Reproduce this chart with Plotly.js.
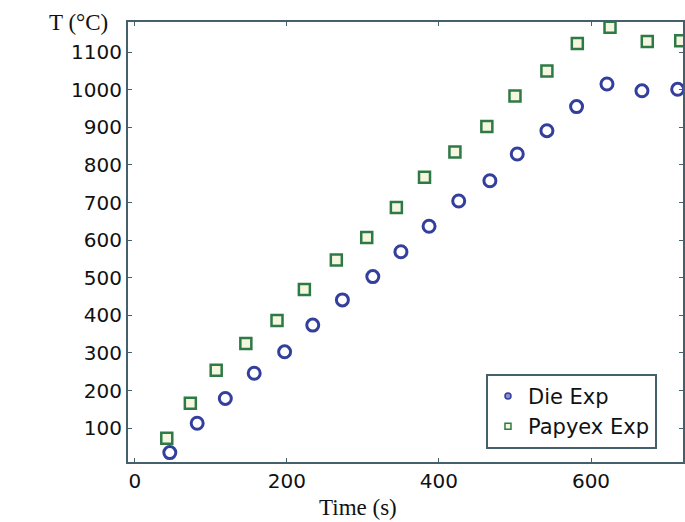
<!DOCTYPE html>
<html>
<head>
<meta charset="utf-8">
<script src="https://cdn.plot.ly/plotly-3.0.1.min.js"></script>
<style>html,body{margin:0;padding:0;background:#fff;}#chart{width:685px;height:522px;}</style>
</head>
<body>
<div id="chart"></div>
<script>
// Time (s) and temperature (°C)
const dieTime = [46, 82, 119, 157, 197, 234, 273, 313, 350, 387, 426, 467, 503, 542, 581, 621, 667, 714];
const dieTemp = [35, 113, 179, 246, 303, 374, 441, 503, 569, 637, 704, 758, 829, 891, 955, 1015, 997, 1001];
const papTime = [42, 73, 107, 146, 187, 223, 265, 305, 344, 381, 421, 463, 500, 542, 582, 625, 674, 718];
const papTemp = [73, 166, 254, 325, 386, 469, 547, 607, 687, 767, 834, 902, 983, 1050, 1123, 1166, 1128, 1130];
const seriesNames = ["Die Exp", "Papyex Exp"];
const xTicks = [0, 200, 400, 600];
const yTicks = [100, 200, 300, 400, 500, 600, 700, 800, 900, 1000, 1100];

const blue = "#333f9c";
const green = "#2e7a45";

const traces = [
  {x: dieTime, y: dieTemp, mode: "markers", type: "scatter", showlegend: false,
   marker: {symbol: "circle-open", size: 12, color: blue, line: {width: 3, color: blue}}},
  {x: papTime, y: papTemp, mode: "markers", type: "scatter", showlegend: false,
   marker: {symbol: "square", size: 11, color: "#f4f6e0", line: {width: 2.5, color: green}}},
  {x: [null], y: [null], mode: "markers", type: "scatter", name: seriesNames[0],
   marker: {symbol: "circle", size: 6, color: "#8a8fd0", line: {width: 1.5, color: blue}}},
  {x: [null], y: [null], mode: "markers", type: "scatter", name: seriesNames[1],
   marker: {symbol: "square", size: 6, color: "#f4f6e0", line: {width: 1.5, color: green}}}
];

const axisColor = "#44606a";
const layout = {
  width: 685, height: 522,
  margin: {l: 128, r: 2, t: 22, b: 60},
  paper_bgcolor: "#ffffff", plot_bgcolor: "#ffffff",
  showlegend: true,
  legend: {x: 0.645, y: 0.03, xanchor: "left", yanchor: "bottom",
    bgcolor: "#ffffff", bordercolor: axisColor, borderwidth: 2,
    font: {family: "DejaVu Sans", size: 21, color: "#111"}, tracegroupgap: 0},
  xaxis: {range: [-9, 721], tickvals: xTicks, ticktext: xTicks.map(String),
    showgrid: false, zeroline: false, showline: true, mirror: "ticks",
    linecolor: axisColor, linewidth: 2, ticks: "inside", ticklen: 4, tickcolor: axisColor,
    tickfont: {family: "DejaVu Sans", size: 20, color: "#111"}},
  yaxis: {range: [10, 1180], tickvals: yTicks, ticktext: yTicks.map(String),
    showgrid: false, zeroline: false, showline: true, mirror: "ticks",
    linecolor: axisColor, linewidth: 2, ticks: "inside", ticklen: 4, tickcolor: axisColor,
    tickfont: {family: "DejaVu Sans", size: 20, color: "#111"}},
  annotations: [
    {text: "T (°C)", xref: "paper", yref: "paper", x: -0.09, y: 0.998,
     xanchor: "center", yanchor: "middle", showarrow: false,
     font: {family: "Liberation Serif", size: 23, color: "#111"}},
    {text: "Time (s)", xref: "paper", yref: "paper", x: 0.414, y: -0.1045,
     xanchor: "center", yanchor: "middle", showarrow: false,
     font: {family: "Liberation Serif", size: 23, color: "#111"}}
  ]
};

Plotly.newPlot("chart", traces, layout, {displayModeBar: false, staticPlot: true});
</script>
</body>
</html>
